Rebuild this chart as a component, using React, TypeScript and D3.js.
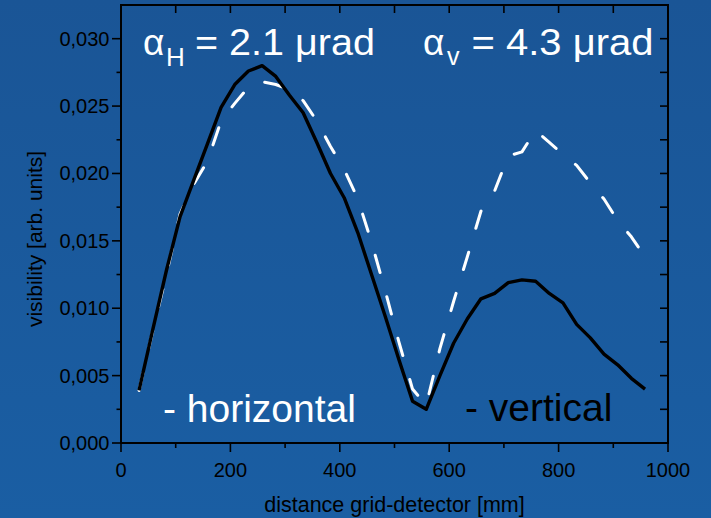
import React from "react";
import * as d3 from "d3";

const distance = [33, 58, 83, 108, 133, 158, 183, 208, 233, 258, 283, 308, 333, 358, 383, 408, 433, 458, 483, 508, 533, 558, 583, 608, 633, 658, 683, 708, 733, 758, 783, 808, 833, 858, 883, 908, 933, 958];
const vertical = [0.0039, 0.0084, 0.0128, 0.0168, 0.0195, 0.0222, 0.0249, 0.0266, 0.0276, 0.0280, 0.0272, 0.0258, 0.0245, 0.0223, 0.0200, 0.0182, 0.0156, 0.0125, 0.0094, 0.0062, 0.0031, 0.0025, 0.0050, 0.0074, 0.0092, 0.0107, 0.0111, 0.0119, 0.0121, 0.0120, 0.0111, 0.0104, 0.0088, 0.0078, 0.0066, 0.0058, 0.0048, 0.0040];
const horizontal = [0.0039, 0.0083, 0.0125, 0.0170, 0.0192, 0.0209, 0.0239, 0.0252, 0.0264, 0.0268, 0.0266, 0.0262, 0.0254, 0.0239, 0.0220, 0.0203, 0.0181, 0.0149, 0.0113, 0.0075, 0.0040, 0.0028, 0.0070, 0.0105, 0.0138, 0.0172, 0.0187, 0.0213, 0.0216, 0.0232, 0.0223, 0.0214, 0.0206, 0.0193, 0.0181, 0.0165, 0.0153, 0.0138];

const xMajorTicks = [0, 200, 400, 600, 800, 1000];
const xMinorTicks = [100, 300, 500, 700, 900];
const yMajorTicks = [0, 0.005, 0.01, 0.015, 0.02, 0.025, 0.03];
const yMinorTicks = [0.0025, 0.0075, 0.0125, 0.0175, 0.0225, 0.0275];

const xTitle = "distance grid-detector [mm]";
const yTitle = "visibility [arb. units]";
const labelH = "- horizontal";
const labelV = "- vertical";

const W = 711;
const H = 518;
const FONT = "'Liberation Sans', Arial, Helvetica, sans-serif";

export default function App() {
  const x = d3.scaleLinear().domain([0, 1000]).range([121, 668]);
  const y = d3.scaleLinear().domain([0, 0.0325]).range([443, 5]);
  const fmt = (v: number) => d3.format(".3f")(v).replace(".", ",");

  const line = d3
    .line<number>()
    .x((_, i) => x(distance[i]))
    .y((d) => y(d));

  const [x0, x1] = x.range();
  const [y0, y1] = y.range();
  const allTopTicks = [...xMajorTicks, ...xMinorTicks];
  const allRightTicks = [...yMajorTicks, ...yMinorTicks, 0.0325];

  return (
    <div style={{ position: "fixed", left: 0, top: 0, width: W, height: H }}>
      <svg width={W} height={H} style={{ display: "block" }} fontFamily={FONT}>
        <defs>
          <linearGradient id="bg" x1="0" y1="0" x2="0" y2="1">
            <stop offset="0%" stopColor="#1a5596" />
            <stop offset="100%" stopColor="#1a5ea3" />
          </linearGradient>
        </defs>
        <rect x={0} y={0} width={W} height={H} fill="url(#bg)" />

        {/* curves */}
        <path
          d={line(horizontal) || ""}
          fill="none"
          stroke="#ffffff"
          strokeWidth={3}
          strokeDasharray="18 25"
          strokeLinecap="round"
          strokeLinejoin="round"
        />
        <path
          d={line(vertical) || ""}
          fill="none"
          stroke="#000000"
          strokeWidth={3.4}
          strokeLinejoin="round"
        />

        {/* frame */}
        <rect x={x0} y={y1} width={x1 - x0} height={y0 - y1} fill="none" stroke="#000" strokeWidth={2} />

        {/* bottom ticks */}
        {xMajorTicks.map((t) => (
          <line key={"bx" + t} x1={x(t)} x2={x(t)} y1={y0} y2={y0 + 9} stroke="#000" strokeWidth={1.6} />
        ))}
        {xMinorTicks.map((t) => (
          <line key={"bm" + t} x1={x(t)} x2={x(t)} y1={y0} y2={y0 + 5} stroke="#000" strokeWidth={1.6} />
        ))}
        {/* top ticks */}
        {allTopTicks.map((t) => (
          <line key={"tx" + t} x1={x(t)} x2={x(t)} y1={y1} y2={y1 + 8} stroke="#000" strokeWidth={1.6} />
        ))}
        {/* left ticks */}
        {yMajorTicks.map((t) => (
          <line key={"ly" + t} x1={x0 - 9} x2={x0} y1={y(t)} y2={y(t)} stroke="#000" strokeWidth={1.6} />
        ))}
        {yMinorTicks.map((t) => (
          <line key={"lm" + t} x1={x0 - 4.5} x2={x0} y1={y(t)} y2={y(t)} stroke="#000" strokeWidth={1.6} />
        ))}
        {/* right ticks */}
        {allRightTicks.map((t) => (
          <line key={"ry" + t} x1={x1 - 8} x2={x1} y1={y(t)} y2={y(t)} stroke="#000" strokeWidth={1.6} />
        ))}

        {/* tick labels */}
        {xMajorTicks.map((t) => (
          <text key={"xl" + t} x={x(t)} y={477} textAnchor="middle" fontSize={20} fill="#000">
            {t}
          </text>
        ))}
        {yMajorTicks.map((t) => (
          <text key={"yl" + t} x={109.5} y={y(t) + 7} textAnchor="end" fontSize={20} fill="#000">
            {fmt(t)}
          </text>
        ))}

        {/* axis titles */}
        <text x={(x0 + x1) / 2} y={512} textAnchor="middle" fontSize={21.5} fill="#000">
          {xTitle}
        </text>
        <text
          transform={`translate(42,239) rotate(-90)`}
          textAnchor="middle"
          fontSize={21}
          fill="#000"
        >
          {yTitle}
        </text>

        {/* annotations */}
        <g fill="#ffffff">
          <text x={143} y={55} fontSize={37}>α</text>
          <text x={166} y={65.5} fontSize={26}>H</text>
          <text x={195} y={55} fontSize={37} textLength={180} lengthAdjust="spacingAndGlyphs">= 2.1 μrad</text>

          <text x={423} y={55} fontSize={37}>α</text>
          <text x={447} y={65} fontSize={25}>v</text>
          <text x={471.5} y={55} fontSize={37} textLength={182} lengthAdjust="spacingAndGlyphs">= 4.3 μrad</text>

          <text x={163} y={421.5} fontSize={39}>{labelH}</text>
        </g>
        <text x={465} y={420.5} fontSize={39} fill="#000">{labelV}</text>
      </svg>
    </div>
  );
}
